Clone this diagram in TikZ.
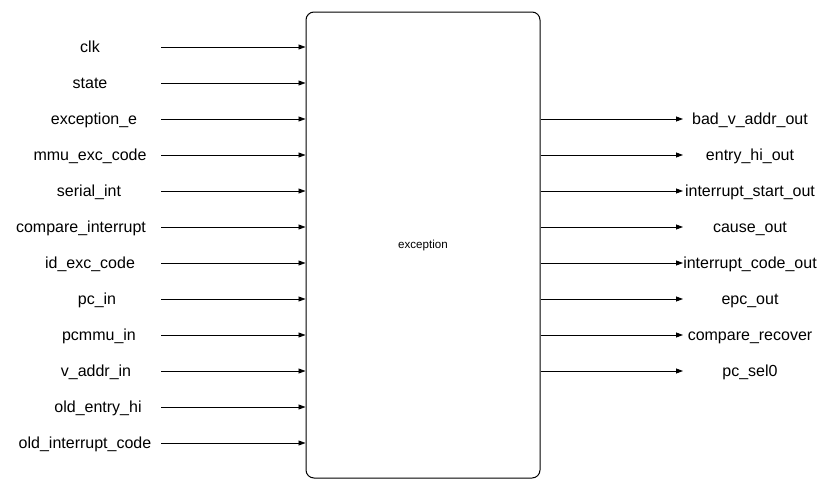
\documentclass[tikz,border=0pt]{standalone}
\usepackage{fontspec}
\setmainfont{Liberation Sans}
\usetikzlibrary{arrows.meta}
\begin{document}
\begin{tikzpicture}[x=1pt, y=-1pt,
		sig/.style={-{Triangle[length=7pt,width=5pt]}, line width=0.8pt},
		port/.style={anchor=base, inner sep=0pt, font=\fontsize{16}{18}\selectfont}]
	\useasboundingbox (0,0) rectangle (837,490);
	
	\node[draw, line width=1pt, rounded corners=8pt, minimum width=234pt, minimum height=466pt, font=\fontsize{11.6}{13}\selectfont](exc) at (423,245) {exception};
	
	% inputs
	\foreach \name/\lx [count=\i] in {clk/90, state/90, exception\_e/94, mmu\_exc\_code/90, serial\_int/89, compare\_interrupt/81, id\_exc\_code/90, pc\_in/97, pcmmu\_in/99, v\_addr\_in/96, old\_entry\_hi/98, old\_interrupt\_code/85}{
		\node[port](in\i) at (\lx, 16.5+36*\i) {\name};
		\coordinate[](src\i) at (161, 11+36*\i);
		\draw[sig] (src\i) -- (exc.west |- src\i);
	}
	
	% outputs
	\foreach \name [count=\i] in {bad\_v\_addr\_out, entry\_hi\_out, interrupt\_start\_out, cause\_out, interrupt\_code\_out, epc\_out, compare\_recover, pc\_sel0}{
		\node[port](out\i) at (750, 88.5+36*\i) {\name};
		\coordinate[](dst\i) at (683, 83+36*\i);
		\draw[sig] (exc.east |- dst\i) -- (dst\i);
	}
\end{tikzpicture}
\end{document}
